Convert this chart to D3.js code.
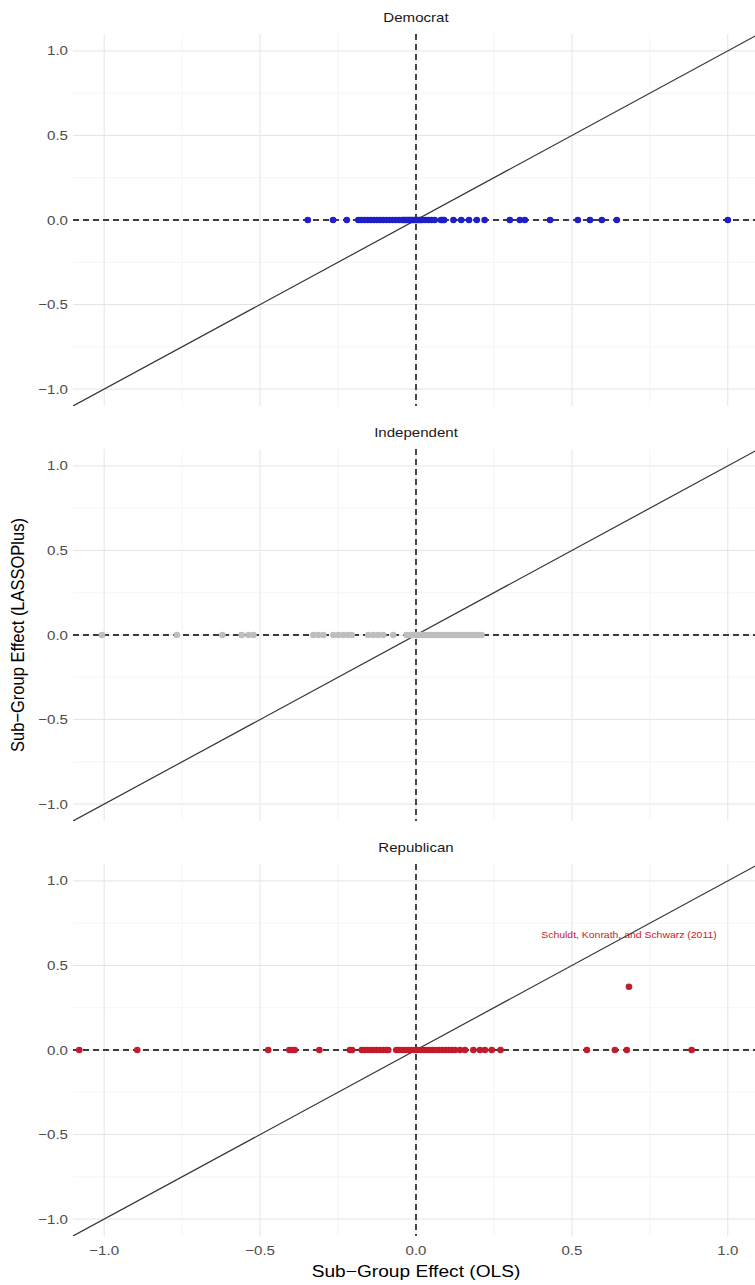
<!DOCTYPE html>
<html>
<head>
<meta charset="utf-8">
<script src="https://cdn.jsdelivr.net/npm/d3@7"></script>
<style>
  html, body { margin: 0; padding: 0; background: #fff; }
  svg { display: block; font-family: "Liberation Sans", Arial, sans-serif; }
</style>
</head>
<body>
<script>
// Sub-group effects: OLS estimate (x) against LASSOPlus estimate (y), by party.
const panelNames = ["Democrat", "Independent", "Republican"];
const panelColors = ["#1f1fc9", "#bebebe", "#c41a2c"];

const demOLS = [-0.347, -0.266, -0.222, -0.185, -0.175, -0.165, -0.155, -0.145, -0.135,
  -0.125, -0.115, -0.105, -0.095, -0.085, -0.075, -0.065, -0.055, -0.045, -0.04, -0.035,
  -0.03, -0.025, -0.02, -0.015, -0.01, -0.005, 0, 0.005, 0.01, 0.015, 0.02, 0.03, 0.04,
  0.05, 0.06, 0.08, 0.085, 0.09, 0.12, 0.145, 0.17, 0.195, 0.22, 0.301, 0.333, 0.349,
  0.43, 0.519, 0.558, 0.596, 0.644, 1.0];
const demLasso = [0, 0, 0, 0, 0, 0, 0, 0, 0, 0, 0, 0, 0, 0, 0, 0, 0, 0, 0, 0, 0, 0, 0, 0,
  0, 0, 0, 0, 0, 0, 0, 0, 0, 0, 0, 0, 0, 0, 0, 0, 0, 0, 0, 0, 0, 0, 0, 0, 0, 0, 0, 0];

const indOLS = [-1.007, -0.767, -0.621, -0.559, -0.537, -0.521, -0.329, -0.313, -0.297,
  -0.265, -0.249, -0.233, -0.217, -0.206, -0.153, -0.137, -0.121, -0.105, -0.073, -0.03,
  -0.02, -0.01, 0, 0.01, 0.02, 0.03, 0.04, 0.05, 0.06, 0.07, 0.08, 0.09, 0.1, 0.11, 0.12,
  0.13, 0.14, 0.15, 0.16, 0.17, 0.18, 0.19, 0.2, 0.21];
const indLasso = [0, 0, 0, 0, 0, 0, 0, 0, 0, 0, 0, 0, 0, 0, 0, 0, 0, 0, 0, 0, 0, 0, 0, 0,
  0, 0, 0, 0, 0, 0, 0, 0, 0, 0, 0, 0, 0, 0, 0, 0, 0, 0, 0, 0];

const repOLS = [-1.08, -0.894, -0.474, -0.406, -0.397, -0.389, -0.31, -0.212, -0.205,
  -0.174, -0.165, -0.155, -0.145, -0.135, -0.125, -0.115, -0.105, -0.095, -0.089, -0.063,
  -0.055, -0.045, -0.035, -0.025, -0.015, -0.005, 0.005, 0.015, 0.025, 0.035, 0.045,
  0.055, 0.065, 0.075, 0.085, 0.095, 0.105, 0.115, 0.125, 0.141, 0.157, 0.184, 0.205,
  0.221, 0.243, 0.271, 0.548, 0.638, 0.676, 0.884, 0.683];
const repLasso = [0, 0, 0, 0, 0, 0, 0, 0, 0, 0, 0, 0, 0, 0, 0, 0, 0, 0, 0, 0, 0, 0, 0, 0,
  0, 0, 0, 0, 0, 0, 0, 0, 0, 0, 0, 0, 0, 0, 0, 0, 0, 0, 0, 0, 0, 0, 0, 0, 0, 0, 0.374];

const panelOLS = [demOLS, indOLS, repOLS];
const panelLasso = [demLasso, indLasso, repLasso];

const majorTicks = [-1.0, -0.5, 0.0, 0.5, 1.0];
const minorTicks = [-0.75, -0.25, 0.25, 0.75];

// Annotated study in the Republican panel
const noteText = "Schuldt, Konrath, and Schwarz (2011)";
const notePos = [0.683, 0.68];

const W = 755, H = 1285;
const plotLeft = 73, plotRight = 759;
const panelTop0 = 34, panelH = 372, panelStep = 415;
const domain = [-1.1, 1.1];
const textStretch = 1.16;   // horizontal widening of the lettering

const svg = d3.select("body").append("svg").attr("width", W).attr("height", H);

const x = d3.scaleLinear().domain(domain).range([plotLeft, plotRight]);
const fmt = d3.format(".1f");
const tickLabel = v => fmt(v).replace("-", "\u2212");

// place horizontal text at (px, py), widened by textStretch
function placeText(sel, px, py) {
  return sel.attr("transform", (d, i, n) => {
    const X = typeof px === "function" ? px(d, i, n) : px;
    const Y = typeof py === "function" ? py(d, i, n) : py;
    return `translate(${X},${Y}) scale(${textStretch},1)`;
  });
}

panelNames.forEach((name, i) => {
  const top = panelTop0 + i * panelStep;
  const y = d3.scaleLinear().domain(domain).range([top + panelH, top]);
  const g = svg.append("g");

  const clipId = "clip" + i;
  svg.append("clipPath").attr("id", clipId).append("rect")
    .attr("x", plotLeft).attr("y", top).attr("width", plotRight - plotLeft).attr("height", panelH);

  // minor gridlines
  g.selectAll(".mnx").data(minorTicks).join("line")
    .attr("x1", d => x(d)).attr("x2", d => x(d)).attr("y1", top).attr("y2", top + panelH)
    .attr("stroke", "#f0f0f0").attr("stroke-width", 0.7);
  g.selectAll(".mny").data(minorTicks).join("line")
    .attr("y1", d => y(d)).attr("y2", d => y(d)).attr("x1", plotLeft).attr("x2", plotRight)
    .attr("stroke", "#f0f0f0").attr("stroke-width", 0.7);
  // major gridlines
  g.selectAll(".mjx").data(majorTicks).join("line")
    .attr("x1", d => x(d)).attr("x2", d => x(d)).attr("y1", top).attr("y2", top + panelH)
    .attr("stroke", "#e4e4e4").attr("stroke-width", 1);
  g.selectAll(".mjy").data(majorTicks).join("line")
    .attr("y1", d => y(d)).attr("y2", d => y(d)).attr("x1", plotLeft).attr("x2", plotRight)
    .attr("stroke", "#e4e4e4").attr("stroke-width", 1);

  // y tick labels
  placeText(g.selectAll(".yl").data(majorTicks).join("text"), plotLeft - 5, d => y(d))
    .attr("dy", "0.35em")
    .attr("text-anchor", "end").attr("font-size", 13).attr("fill", "#4d4d4d")
    .text(tickLabel);

  // strip title
  placeText(g.append("text"), (plotLeft + plotRight) / 2, top - 12)
    .attr("text-anchor", "middle").attr("font-size", 13).attr("fill", "#1a1a1a")
    .text(name);

  const inner = g.append("g").attr("clip-path", `url(#${clipId})`);

  // 45-degree reference line
  inner.append("line")
    .attr("x1", x(domain[0])).attr("y1", y(domain[0]))
    .attr("x2", x(domain[1])).attr("y2", y(domain[1]))
    .attr("stroke", "#333").attr("stroke-width", 1.2);

  // zero reference lines
  inner.append("line")
    .attr("x1", x(0)).attr("x2", x(0)).attr("y1", top).attr("y2", top + panelH)
    .attr("stroke", "#000").attr("stroke-width", 1.4).attr("stroke-dasharray", "6,4");
  inner.append("line")
    .attr("y1", y(0)).attr("y2", y(0)).attr("x1", plotLeft).attr("x2", plotRight)
    .attr("stroke", "#000").attr("stroke-width", 1.4).attr("stroke-dasharray", "6,4");

  // estimates
  const pts = panelOLS[i].map((v, k) => ({ ols: v, lasso: panelLasso[i][k] }));
  inner.selectAll("circle").data(pts).join("circle")
    .attr("cx", d => x(d.ols)).attr("cy", d => y(d.lasso)).attr("r", 3.3)
    .attr("fill", panelColors[i]);

  if (name === "Republican") {
    placeText(inner.append("text"), x(notePos[0]), y(notePos[1]))
      .attr("dy", "0.35em")
      .attr("text-anchor", "middle").attr("font-size", 9).attr("fill", panelColors[i])
      .text(noteText);
  }

  // x tick labels under the bottom panel
  if (i === panelNames.length - 1) {
    placeText(g.selectAll(".xl").data(majorTicks).join("text"), d => x(d), top + panelH + 19)
      .attr("text-anchor", "middle").attr("font-size", 13).attr("fill", "#4d4d4d")
      .text(tickLabel);
  }
});

// axis titles
placeText(svg.append("text"), x(0), 1277)
  .attr("text-anchor", "middle").attr("font-size", 16.5).attr("fill", "#000")
  .text("Sub\u2212Group Effect (OLS)");
svg.append("text")
  .attr("transform", `translate(24, ${panelTop0 + panelStep + panelH / 2}) rotate(-90) scale(1,${textStretch})`)
  .attr("text-anchor", "middle").attr("font-size", 16.5).attr("fill", "#000")
  .text("Sub\u2212Group Effect (LASSOPlus)");
</script>
</body>
</html>
